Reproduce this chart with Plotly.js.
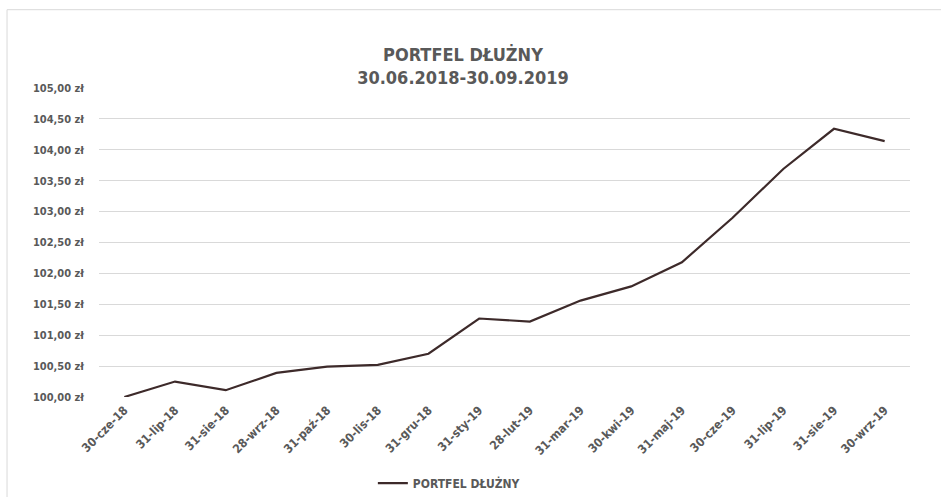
<!DOCTYPE html>
<html>
<head>
<meta charset="utf-8">
<script src="https://cdn.plot.ly/plotly-3.0.1.min.js"></script>
<style>
html,body{margin:0;padding:0;background:#fff;}
#chart{width:941px;height:497px;}
</style>
</head>
<body>
<div id="chart"></div>
<script>
const categories = ["30-cze-18","31-lip-18","31-sie-18","28-wrz-18","31-paź-18","30-lis-18","31-gru-18","31-sty-19","28-lut-19","31-mar-19","30-kwi-19","31-maj-19","30-cze-19","31-lip-19","31-sie-19","30-wrz-19"];
const values = [100.00,100.25,100.11,100.39,100.49,100.52,100.70,101.27,101.22,101.56,101.79,102.18,102.90,103.69,104.34,104.14];
const seriesName = "PORTFEL DŁUŻNY";
const titleLines = ["PORTFEL DŁUŻNY","30.06.2018-30.09.2019"];
const yTicks = [100,100.5,101,101.5,102,102.5,103,103.5,104,104.5,105];
const yTickText = yTicks.map(v => v.toFixed(2).replace(".", ",") + " zł");

const FONT = "'DejaVu Sans Condensed', 'Liberation Sans Narrow', sans-serif";
const GREY = "#595959";

const trace = {
  x: categories,
  y: values,
  type: "scatter",
  mode: "lines",
  name: seriesName,
  line: {color: "#3d2a2a", width: 2.2},
  showlegend: true
};

const layout = {
  width: 941, height: 497,
  margin: {l: 99, r: 31, t: 88, b: 100},
  paper_bgcolor: "#fff", plot_bgcolor: "#fff",
  font: {family: FONT, color: GREY, size: 11},
  title: {
    text: "<b>" + titleLines.join("</b><br><b>") + "</b>",
    font: {family: FONT, size: 18, color: GREY},
    x: 0.492, xref: "container", xanchor: "center",
    y: 0.878, yref: "container", yanchor: "middle",
    automargin: false
  },
  xaxis: {
    type: "category",
    automargin: false,
    tickangle: -45,
    showgrid: false,
    showline: false,
    ticks: "",
    ticklabelstandoff: 3,
    tickfont: {family: FONT, size: 12, color: GREY, weight: "bold"},
    range: [-0.5, categories.length - 0.5]
  },
  yaxis: {
    automargin: false,
    range: [100, 105],
    tickvals: yTicks,
    ticktext: yTickText,
    showgrid: true,
    gridcolor: "#d9d9d9",
    gridwidth: 1,
    zeroline: false,
    showline: false,
    ticks: "",
    ticklabelstandoff: 14,
    tickfont: {family: FONT, size: 11, color: GREY, weight: "bold"}
  },
  legend: {
    orientation: "h",
    xref: "container", yref: "container",
    x: 0.477, xanchor: "center",
    y: 0.028, yanchor: "middle",
    font: {family: FONT, size: 12, color: GREY, weight: "bold"},
    itemwidth: 30
  },
  shapes: [
    {type: "line", xref: "paper", yref: "paper", x0: -0.1134, x1: 1.04, y0: 1.2534, y1: 1.2534, line: {color: "#d9d9d9", width: 1}},
    {type: "line", xref: "paper", yref: "paper", x0: -0.1134, x1: -0.1134, y0: 1.2534, y1: -0.33, line: {color: "#d9d9d9", width: 1}}
  ]
};

Plotly.newPlot("chart", [trace], layout, {displayModeBar: false, staticPlot: true});
</script>
</body>
</html>
